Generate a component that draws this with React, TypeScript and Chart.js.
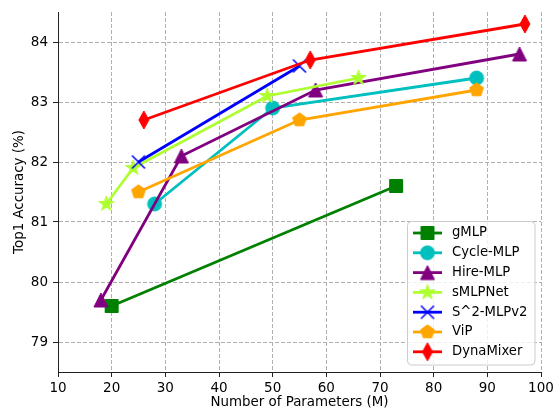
import React, { useEffect, useRef } from "react";
import { Chart, registerables } from "chart.js";

Chart.register(...registerables);

const X_TICKS = [10, 20, 30, 40, 50, 60, 70, 80, 90, 100];
const Y_TICKS = [79, 80, 81, 82, 83, 84];

const SERIES_NAMES = ["gMLP", "Cycle-MLP", "Hire-MLP", "sMLPNet", "S^2-MLPv2", "ViP", "DynaMixer"];
const SERIES_COLORS = ["#008000", "#00bfbf", "#800080", "#adff2f", "#0000ff", "#ffa500", "#ff0000"];
const SERIES_MARKERS = ["square", "circle", "triangle", "star", "x", "pentagon", "thinDiamond"];

const gMLP_X = [20, 73];
const gMLP_Y = [79.6, 81.6];
const cycle_X = [28, 50, 88];
const cycle_Y = [81.3, 82.9, 83.4];
const hire_X = [18, 33, 58, 96];
const hire_Y = [79.7, 82.1, 83.2, 83.8];
const smlp_X = [19, 24, 49, 66];
const smlp_Y = [81.3, 81.9, 83.1, 83.4];
const s2_X = [25, 55];
const s2_Y = [82.0, 83.6];
const vip_X = [25, 55, 88];
const vip_Y = [81.5, 82.7, 83.2];
const dyna_X = [26, 57, 97];
const dyna_Y = [82.7, 83.7, 84.3];

const SERIES_X = [gMLP_X, cycle_X, hire_X, smlp_X, s2_X, vip_X, dyna_X];
const SERIES_Y = [gMLP_Y, cycle_Y, hire_Y, smlp_Y, s2_Y, vip_Y, dyna_Y];

const FONT = "'DejaVu Sans', sans-serif";

function makeMarker(shape: string, color: string): HTMLCanvasElement {
  const c = document.createElement("canvas");
  c.width = 24;
  c.height = 24;
  const ctx = c.getContext("2d")!;
  ctx.translate(12, 12);
  ctx.fillStyle = color;
  ctx.strokeStyle = color;
  ctx.lineWidth = 1;
  ctx.lineJoin = "miter";
  ctx.beginPath();
  const poly = (n: number, r: number, inner?: number) => {
    const pts = inner ? n * 2 : n;
    for (let i = 0; i < pts; i++) {
      const rr = inner ? (i % 2 === 0 ? r : inner) : r;
      const a = -Math.PI / 2 + (i * 2 * Math.PI) / pts;
      const px = rr * Math.cos(a);
      const py = rr * Math.sin(a);
      if (i === 0) ctx.moveTo(px, py);
      else ctx.lineTo(px, py);
    }
    ctx.closePath();
  };
  switch (shape) {
    case "square":
      ctx.rect(-6.5, -6.5, 13, 13);
      break;
    case "circle":
      ctx.arc(0, 0, 7, 0, Math.PI * 2);
      break;
    case "triangle":
      ctx.moveTo(0, -7);
      ctx.lineTo(-7, 7);
      ctx.lineTo(7, 7);
      ctx.closePath();
      break;
    case "star":
      poly(5, 8, 8 * 0.381966);
      break;
    case "pentagon":
      poly(5, 7.2);
      break;
    case "thinDiamond":
      ctx.moveTo(0, -9);
      ctx.lineTo(5, 0);
      ctx.lineTo(0, 9);
      ctx.lineTo(-5, 0);
      ctx.closePath();
      break;
    case "x":
      ctx.lineWidth = 1.5;
      ctx.moveTo(-6.5, -6.5);
      ctx.lineTo(6.5, 6.5);
      ctx.moveTo(-6.5, 6.5);
      ctx.lineTo(6.5, -6.5);
      ctx.stroke();
      return c;
  }
  ctx.fill();
  ctx.stroke();
  return c;
}

function makeLegendPlugin(markers: HTMLCanvasElement[]) {
  return {
    id: "mplLegend",
    afterDraw(chart: any) {
      const ctx: CanvasRenderingContext2D = chart.ctx;
      const { left, right, top, bottom } = chart.chartArea;
      ctx.save();
      // spines (solid)
      ctx.strokeStyle = "#222";
      ctx.lineWidth = 1;
      ctx.beginPath();
      ctx.moveTo(left + 0.5, top);
      ctx.lineTo(left + 0.5, bottom);
      ctx.moveTo(left, bottom + 0.5);
      ctx.lineTo(right, bottom + 0.5);
      ctx.stroke();

      const x0 = 407.5, y0 = 221.5, w = 127.5, h = 143.5, r = 4;
      ctx.beginPath();
      ctx.moveTo(x0 + r, y0);
      ctx.lineTo(x0 + w - r, y0);
      ctx.arcTo(x0 + w, y0, x0 + w, y0 + r, r);
      ctx.lineTo(x0 + w, y0 + h - r);
      ctx.arcTo(x0 + w, y0 + h, x0 + w - r, y0 + h, r);
      ctx.lineTo(x0 + r, y0 + h);
      ctx.arcTo(x0, y0 + h, x0, y0 + h - r, r);
      ctx.lineTo(x0, y0 + r);
      ctx.arcTo(x0, y0, x0 + r, y0, r);
      ctx.closePath();
      ctx.fillStyle = "rgba(255,255,255,0.8)";
      ctx.fill();
      ctx.strokeStyle = "#cccccc";
      ctx.lineWidth = 1;
      ctx.stroke();
      SERIES_NAMES.forEach((name, i) => {
        const yc = 233 + i * 19.8;
        ctx.beginPath();
        ctx.strokeStyle = SERIES_COLORS[i];
        ctx.lineWidth = 2.8;
        ctx.moveTo(413, yc);
        ctx.lineTo(442, yc);
        ctx.stroke();
        const m = markers[i];
        if (m) ctx.drawImage(m, 427.5 - m.width / 2, yc - m.height / 2);
        ctx.fillStyle = "#000";
        ctx.font = `13.2px ${FONT}`;
        ctx.textBaseline = "middle";
        ctx.textAlign = "left";
        ctx.fillText(name, 452, yc);
      });
      ctx.restore();
    },
  };
}

export default function App() {
  const ref = useRef<HTMLCanvasElement>(null);
  useEffect(() => {
    if (!ref.current) return;
    const markers = SERIES_NAMES.map((_, i) => makeMarker(SERIES_MARKERS[i], SERIES_COLORS[i]));
    const datasets = SERIES_NAMES.map((name, i) => ({
      label: name,
      data: SERIES_X[i].map((x, j) => ({ x, y: SERIES_Y[i][j] })),
      borderColor: SERIES_COLORS[i],
      backgroundColor: SERIES_COLORS[i],
      borderWidth: 2.8,
      pointStyle: markers[i],
      pointRadius: 8,
      pointHoverRadius: 8,
      showLine: true,
      fill: false,
      tension: 0,
      order: -i,
    }));
    const gridCommon = {
      color: "#b0b0b0",
      lineWidth: 1,
      borderDash: [4, 2],
      tickBorderDash: [],
      tickColor: "#222",
      tickLength: 5,
      tickWidth: 1,
      drawTicks: true,
    };
    const border = { display: true, color: "#222", width: 1, dash: [4, 2] };
    const chart = new Chart(ref.current, {
      type: "line",
      data: { datasets } as any,
      plugins: [makeLegendPlugin(markers)],
      options: {
        animation: false,
        responsive: false,
        devicePixelRatio: 1,
        layout: { padding: { top: 12, right: 12, left: 0, bottom: 0 } },
        plugins: { legend: { display: false }, tooltip: { enabled: false } },
        scales: {
          x: {
            type: "linear",
            min: 10,
            max: 100,
            afterBuildTicks: (s: any) => {
              s.ticks = X_TICKS.map((v) => ({ value: v }));
            },
            afterFit: (s: any) => {
              s.height = 39;
              s.paddingLeft = 0;
              s.paddingRight = 0;
            },
            grid: gridCommon as any,
            border,
            ticks: { color: "#000", font: { family: FONT, size: 13.5 }, padding: 3, maxRotation: 0, autoSkip: false },
            title: {
              display: true,
              text: "Number of Parameters (M)",
              color: "#000",
              font: { family: FONT, size: 13.4 },
              padding: { top: 0, bottom: 0 },
            },
          } as any,
          y: {
            type: "linear",
            min: 78.5,
            max: 84.5,
            afterBuildTicks: (s: any) => {
              s.ticks = Y_TICKS.map((v) => ({ value: v }));
            },
            afterFit: (s: any) => {
              s.width = 58;
              s.paddingTop = 0;
              s.paddingBottom = 0;
            },
            grid: gridCommon as any,
            border,
            ticks: { color: "#000", font: { family: FONT, size: 13.5 }, padding: 5, autoSkip: false },
            title: {
              display: true,
              text: "Top1 Accuracy (%)",
              color: "#000",
              font: { family: FONT, size: 13.4 },
              padding: { top: 11, bottom: 0 },
            },
          } as any,
        },
      },
    });
    return () => chart.destroy();
  }, []);
  return (
    <div style={{ position: "absolute", left: 0, top: 0, width: 553, height: 411, background: "#fff" }}>
      <canvas ref={ref} width={553} height={411} style={{ width: 553, height: 411 }} />
    </div>
  );
}
